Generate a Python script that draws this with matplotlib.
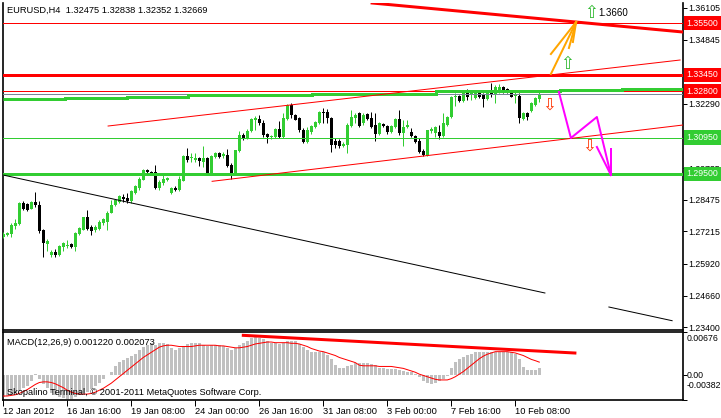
import matplotlib
matplotlib.use('Agg')
import matplotlib.pyplot as plt
from matplotlib.transforms import blended_transform_factory
from matplotlib.patches import Rectangle
import numpy as np

plt.rcParams['font.family'] = ['Liberation Sans', 'DejaVu Sans']

# ---------------- data ----------------
opens = [1.2698, 1.2706, 1.2710, 1.2742, 1.2750, 1.2834, 1.2830, 1.2810, 1.2838, 1.2826,
         1.2726, 1.2670, 1.2627, 1.2639, 1.2627, 1.2658, 1.2662, 1.2670, 1.2658, 1.2710,
         1.2726, 1.2778, 1.2738, 1.2726, 1.2730, 1.2754, 1.2758, 1.2794, 1.2826, 1.2838,
         1.2858, 1.2854, 1.2842, 1.2874, 1.2894, 1.2926, 1.2966, 1.2958, 1.2958, 1.2894,
         1.2914, 1.2926, 1.2874, 1.2894, 1.2886, 1.2922, 1.3021, 1.3013, 1.3005, 1.3013,
         1.2997, 1.3013, 1.2954, 1.3017, 1.3033, 1.3021, 1.3025, 1.2985, 1.2946, 1.3041,
         1.3105, 1.3093, 1.3121, 1.3165, 1.3169, 1.3153, 1.3109, 1.3097, 1.3097, 1.3129,
         1.3097, 1.3169, 1.3224, 1.3185, 1.3173, 1.3125, 1.3077, 1.3117, 1.3137, 1.3153,
         1.3197, 1.3197, 1.3173, 1.3081, 1.3081, 1.3061, 1.3065, 1.3141, 1.3173, 1.3193,
         1.3153, 1.3189, 1.3173, 1.3145, 1.3109, 1.3149, 1.3141, 1.3117, 1.3137, 1.3169,
         1.3113, 1.3137, 1.3117, 1.3101, 1.3081, 1.3041, 1.3021, 1.3121, 1.3113, 1.3117,
         1.3101, 1.3145, 1.3177, 1.3256, 1.3260, 1.3240, 1.3272, 1.3268, 1.3252, 1.3272,
         1.3264, 1.3248, 1.3272, 1.3264, 1.3276, 1.3296, 1.3288, 1.3276, 1.3260, 1.3260,
         1.3169, 1.3193, 1.3201, 1.3224, 1.32475]
highs = [1.2718, 1.2718, 1.2754, 1.2770, 1.2838, 1.2842, 1.2834, 1.2842, 1.2878, 1.2842,
         1.2730, 1.2690, 1.2647, 1.2650, 1.2666, 1.2678, 1.2686, 1.2674, 1.2718, 1.2738,
         1.2778, 1.2806, 1.2746, 1.2746, 1.2766, 1.2774, 1.2802, 1.2846, 1.2850, 1.2866,
         1.2870, 1.2874, 1.2886, 1.2906, 1.2938, 1.2969, 1.2969, 1.2962, 1.2985, 1.2926,
         1.2946, 1.2938, 1.2898, 1.2902, 1.2942, 1.3025, 1.3053, 1.3033, 1.3033, 1.3017,
         1.3061, 1.3017, 1.3025, 1.3037, 1.3037, 1.3037, 1.3049, 1.2993, 1.3045, 1.3121,
         1.3113, 1.3129, 1.3173, 1.3181, 1.3185, 1.3165, 1.3113, 1.3105, 1.3133, 1.3161,
         1.3193, 1.3228, 1.3232, 1.3189, 1.3177, 1.3133, 1.3137, 1.3145, 1.3161, 1.3201,
         1.3212, 1.3208, 1.3177, 1.3093, 1.3089, 1.3077, 1.3153, 1.3205, 1.3193, 1.3197,
         1.3193, 1.3193, 1.3197, 1.3193, 1.3157, 1.3153, 1.3145, 1.3145, 1.3173, 1.3205,
         1.3165, 1.3165, 1.3133, 1.3105, 1.3093, 1.3049, 1.3125, 1.3137, 1.3141, 1.3145,
         1.3193, 1.3181, 1.3260, 1.3272, 1.3264, 1.3276, 1.3288, 1.3280, 1.3276, 1.3276,
         1.3272, 1.3276, 1.3312, 1.3304, 1.3308, 1.3300, 1.3292, 1.3284, 1.3276, 1.3272,
         1.3197, 1.3197, 1.3236, 1.3256, 1.32838]
lows = [1.2694, 1.2702, 1.2698, 1.2730, 1.2746, 1.2806, 1.2802, 1.2810, 1.2818, 1.2714,
        1.2619, 1.2643, 1.2619, 1.2619, 1.2623, 1.2643, 1.2654, 1.2654, 1.2643, 1.2706,
        1.2726, 1.2726, 1.2706, 1.2718, 1.2726, 1.2746, 1.2726, 1.2794, 1.2822, 1.2834,
        1.2838, 1.2834, 1.2834, 1.2870, 1.2886, 1.2926, 1.2954, 1.2950, 1.2890, 1.2886,
        1.2906, 1.2922, 1.2870, 1.2882, 1.2882, 1.2922, 1.2997, 1.2997, 1.2997, 1.2981,
        1.2977, 1.2950, 1.2950, 1.3013, 1.3013, 1.3013, 1.2977, 1.2930, 1.2946, 1.3037,
        1.3085, 1.3089, 1.3117, 1.3125, 1.3145, 1.3097, 1.3073, 1.3089, 1.3093, 1.3093,
        1.3093, 1.3165, 1.3173, 1.3165, 1.3117, 1.3073, 1.3073, 1.3109, 1.3133, 1.3149,
        1.3153, 1.3153, 1.3037, 1.3053, 1.3053, 1.3057, 1.3033, 1.3137, 1.3153, 1.3137,
        1.3145, 1.3165, 1.3133, 1.3081, 1.3105, 1.3137, 1.3109, 1.3113, 1.3133, 1.3105,
        1.3061, 1.3133, 1.3097, 1.3073, 1.3033, 1.3021, 1.3021, 1.3113, 1.3097, 1.3089,
        1.3097, 1.3141, 1.3173, 1.3220, 1.3236, 1.3236, 1.3244, 1.3244, 1.3248, 1.3252,
        1.3216, 1.3244, 1.3256, 1.3232, 1.3272, 1.3272, 1.3272, 1.3256, 1.3232, 1.3153,
        1.3165, 1.3165, 1.3197, 1.3220, 1.32352]
closes = [1.2710, 1.2714, 1.2746, 1.2754, 1.2834, 1.2810, 1.2806, 1.2838, 1.2826, 1.2722,
          1.2674, 1.2682, 1.2639, 1.2627, 1.2662, 1.2674, 1.2666, 1.2658, 1.2714, 1.2734,
          1.2778, 1.2730, 1.2722, 1.2738, 1.2758, 1.2770, 1.2794, 1.2826, 1.2846, 1.2862,
          1.2850, 1.2842, 1.2882, 1.2902, 1.2930, 1.2966, 1.2958, 1.2954, 1.2894, 1.2918,
          1.2930, 1.2934, 1.2894, 1.2886, 1.2930, 1.3021, 1.3005, 1.3017, 1.3013, 1.3001,
          1.3013, 1.2954, 1.3021, 1.3033, 1.3017, 1.3029, 1.2981, 1.2954, 1.3045, 1.3105,
          1.3093, 1.3121, 1.3169, 1.3173, 1.3153, 1.3105, 1.3097, 1.3101, 1.3129, 1.3097,
          1.3173, 1.3224, 1.3185, 1.3165, 1.3125, 1.3077, 1.3125, 1.3141, 1.3157, 1.3197,
          1.3193, 1.3173, 1.3065, 1.3065, 1.3061, 1.3069, 1.3145, 1.3177, 1.3185, 1.3141,
          1.3185, 1.3169, 1.3137, 1.3109, 1.3153, 1.3141, 1.3117, 1.3141, 1.3169, 1.3113,
          1.3137, 1.3145, 1.3101, 1.3077, 1.3037, 1.3025, 1.3125, 1.3129, 1.3137, 1.3101,
          1.3153, 1.3177, 1.3256, 1.3260, 1.3240, 1.3272, 1.3256, 1.3272, 1.3272, 1.3256,
          1.3248, 1.3272, 1.3264, 1.3296, 1.3296, 1.3280, 1.3276, 1.3256, 1.3268, 1.3173,
          1.3193, 1.3177, 1.3232, 1.3252, 1.32669]

macd_main = [-0.0033, -0.0032, -0.0030, -0.0028, -0.0024, -0.0020, -0.0016, -0.0008, 0.0003, -0.0006,
             -0.0014, -0.0020, -0.0027, -0.0031, -0.0034, -0.0035, -0.0036, -0.0036, -0.0034, -0.0031,
             -0.0028, -0.0025, -0.0021, -0.0017, -0.0011, -0.0005, 0.0001, 0.0006, 0.0014, 0.0021,
             0.0024, 0.0027, 0.0030, 0.0034, 0.0040, 0.0045, 0.0047, 0.0050, 0.0047, 0.0050,
             0.0051, 0.0049, 0.0042, 0.0040, 0.0042, 0.0046, 0.0049, 0.0050, 0.0051, 0.0051,
             0.0047, 0.0046, 0.0047, 0.0047, 0.0047, 0.0046, 0.0043, 0.0040, 0.0042, 0.0047,
             0.0050, 0.0054, 0.0059, 0.0061, 0.0059, 0.0056, 0.0053, 0.0051, 0.0050, 0.0049,
             0.0051, 0.0054, 0.0054, 0.0053, 0.0049, 0.0044, 0.0040, 0.0037, 0.0036, 0.0037,
             0.0036, 0.0032, 0.0026, 0.0017, 0.0012, 0.0011, 0.0014, 0.0017, 0.0019, 0.0019,
             0.0019, 0.0019, 0.0018, 0.0016, 0.0012, 0.0011, 0.0010, 0.0010, 0.0010, 0.0008,
             0.0007, 0.0006, 0.0005, 0.0002, -0.0003, -0.0008, -0.0012, -0.0013, -0.0011, -0.0009,
             -0.0006, -0.0001, 0.0011, 0.0021, 0.0025, 0.0029, 0.0032, 0.0034, 0.0037, 0.0037,
             0.0037, 0.0037, 0.0037, 0.0037, 0.0037, 0.0037, 0.0037, 0.0036, 0.0033, 0.0026,
             0.0013, 0.0008, 0.0008, 0.0008, 0.00122]
macd_signal = [-0.0032, -0.0032, -0.0031, -0.0030, -0.0028, -0.0025, -0.0022, -0.0018, -0.0014, -0.0011,
               -0.0010, -0.0010, -0.0011, -0.0013, -0.0016, -0.0019, -0.0023, -0.0026, -0.0028, -0.0029,
               -0.0029, -0.0029, -0.0028, -0.0026, -0.0023, -0.0020, -0.0016, -0.0012, -0.0007, -0.0002,
               0.0003, 0.0008, 0.0013, 0.0018, 0.0023, 0.0028, 0.0032, 0.0036, 0.0040, 0.0044,
               0.0046, 0.0047, 0.0047, 0.0046, 0.0045, 0.0045, 0.0045, 0.0045, 0.0046, 0.0047,
               0.0047, 0.0047, 0.0047, 0.0047, 0.0046, 0.0046, 0.0045, 0.0044, 0.0043, 0.0043,
               0.0044, 0.0045, 0.0047, 0.0049, 0.0050, 0.0051, 0.0052, 0.0052, 0.0051, 0.0051,
               0.0051, 0.0051, 0.0050, 0.0050, 0.0049, 0.0047, 0.0045, 0.0042, 0.0040, 0.0038,
               0.0037, 0.0035, 0.0033, 0.0031, 0.0028, 0.0026, 0.0024, 0.0022, 0.0020, 0.0016,
               0.0015, 0.0015, 0.0015, 0.0015, 0.0014, 0.0014, 0.0014, 0.0014, 0.0013, 0.0012,
               0.0011, 0.0009, 0.0007, 0.0005, 0.0002, 0.0000, -0.0002, -0.0004, -0.0006, -0.0007,
               -0.0007, -0.0007, -0.0005, -0.0002, 0.0002, 0.0006, 0.0011, 0.0016, 0.0021, 0.0026,
               0.0030, 0.0033, 0.0035, 0.0037, 0.0037, 0.0037, 0.0037, 0.0036, 0.0035, 0.0033,
               0.0031, 0.0028, 0.0025, 0.0023, 0.002073]

date_ticks = [0, 16, 32, 48, 64, 80, 96, 112, 128]
date_labels = ['12 Jan 2012', '16 Jan 16:00', '19 Jan 08:00', '24 Jan 00:00', '26 Jan 16:00',
               '31 Jan 08:00', '3 Feb 00:00', '7 Feb 16:00', '10 Feb 08:00']

price_ticks = [1.36105, 1.34845, 1.32290, 1.29735, 1.28475, 1.27215, 1.25920, 1.24660, 1.23400]
macd_max, macd_min = 0.00676, -0.00382
macd_scale_labels = ['0.00676', '0.00', '-0.00382']

# horizontal levels
red_levels = [1.35500, 1.33450, 1.32800]
red_widths = [1, 3, 1]
green_levels = [1.30950, 1.29500]
green_widths = [1, 3]
last_price = 1.32669

# stepped green average line
step_edges = [-0.075, 15.4, 30.9, 46.2, 61.7, 77.2, 108.2, 139.2, 154.7, 169.925]
step_levels = [1.3250, 1.3252, 1.3257, 1.3263, 1.3264, 1.3268, 1.3280, 1.3284, 1.3288]

# trend lines: (bar index, price)
chan_up_x, chan_up_y = [26.2, 169.2], [1.31408, 1.34035]
chan_dn_x, chan_dn_y = [52.2, 169.925], [1.29207, 1.31448]
res_x, res_y = [92.2, 169.925], [1.36304, 1.35149]
blk1_x, blk1_y = [-0.075, 135.4], [1.29458, 1.24762]
blk2_x, blk2_y = [151.4, 167.2], [1.24204, 1.23659]
orange_apex = (143.2, 1.35547)
orange_tails_x = [136.9, 136.9, 141.4, 142.4]
orange_tails_y = [1.33478, 1.34274, 1.34513, 1.34751]
mag_x = [138.9, 141.9, 148.4, 151.9]
mag_y = [1.32762, 1.30931, 1.31767, 1.29458]
mag_head_x = [[148.4, 151.9], [151.9, 151.9]]
mag_head_y = [[1.30573, 1.29458], [1.30493, 1.29458]]
up_arrows_x, up_arrows_y = [146.9, 140.9], [1.35906, 1.33876]
dn_arrows_x, dn_arrows_y = [136.4, 146.4], [1.32244, 1.30612]
target_text = '1.3660'
macd_trend_x, macd_trend_y = [60.0, 142.9], [0.00624, 0.00349]

# ---------------- figure ----------------
W, H = 721, 418
fig = plt.figure(figsize=(W / 100, H / 100), dpi=100)
fig.patch.set_facecolor('white')


def px_rect(x0, y0, x1, y1):
    return [x0 / W, 1 - y1 / H, (x1 - x0) / W, (y1 - y0) / H]


ax = fig.add_axes(px_rect(3, 3, 683, 330))
axm = fig.add_axes(px_rect(3, 332, 683, 400))

GREEN = '#32CD32'
RED = '#FF0000'
PX = 0.72
FS = 6.7
FSR = 6.3

n = len(opens)
idx = np.arange(n)
o = np.array(opens); c = np.array(closes); h = np.array(highs); l = np.array(lows)
up = c >= o
cols = np.where(up, GREEN, '#000000')

ax.vlines(idx, l, h, colors=cols, lw=PX, zorder=3)
body_b = np.minimum(o, c)
body_h = np.maximum(np.abs(c - o), 0.0003)
ax.bar(idx, body_h, bottom=body_b, width=0.75, color=cols, lw=0, zorder=3)

# horizontal lines
for lv, w in zip(red_levels, red_widths):
    ax.axhline(lv, color=RED, lw=w * PX, zorder=5)
ax.axhline(last_price, color='#778899', lw=PX, zorder=4)
for lv, w in zip(green_levels, green_widths):
    ax.axhline(lv, color=GREEN, lw=w * PX, zorder=5)
ax.stairs(step_levels, step_edges, baseline=None, color=GREEN, lw=3 * PX, zorder=5)

# trend lines
ax.plot(chan_up_x, chan_up_y, color=RED, lw=PX, zorder=6)
ax.plot(chan_dn_x, chan_dn_y, color=RED, lw=PX, zorder=6)
ax.plot(res_x, res_y, color=RED, lw=3 * PX, zorder=6)
ax.plot(blk1_x, blk1_y, color='black', lw=PX, zorder=6)
ax.plot(blk2_x, blk2_y, color='black', lw=PX, zorder=6)
for tx, ty in zip(orange_tails_x, orange_tails_y):
    ax.plot([tx, orange_apex[0]], [ty, orange_apex[1]], color='#FFA500', lw=2 * PX, zorder=7)
ax.plot(mag_x, mag_y, color='#FF00FF', lw=2 * PX, zorder=7)
for hx, hy in zip(mag_head_x, mag_head_y):
    ax.plot(hx, hy, color='#FF00FF', lw=2 * PX, zorder=7)

for x, y in zip(up_arrows_x, up_arrows_y):
    ax.text(x, y, '\u21E7', color='#2EB82E', fontsize=12, ha='center', va='center',
            family='DejaVu Sans', zorder=8)
for x, y in zip(dn_arrows_x, dn_arrows_y):
    ax.text(x, y, '\u21E9', color='#FF3300', fontsize=12, ha='center', va='center',
            family='DejaVu Sans', zorder=8)
ax.text(up_arrows_x[0] + 1.9, up_arrows_y[0], target_text, fontsize=FS + 0.3, color='black',
        ha='left', va='center', zorder=8)

ax.text(0.006, 0.977, 'EURUSD,H4  %.5f %.5f %.5f %.5f' % (opens[-1], highs[-1], lows[-1], closes[-1]),
        transform=ax.transAxes, fontsize=FS, ha='left', va='center')

ax.set_xlim(-0.075, 169.925)
ax.set_ylim(1.23289, 1.36304)
ax.set_xticks([])
ax.yaxis.tick_right()
ax.set_yticks(price_ticks)
ax.set_yticklabels(['%.5f' % t for t in price_ticks], fontsize=FSR)
ax.tick_params(axis='y', length=3, width=PX, pad=1, colors='black')
ax.spines['top'].set_visible(False)
for s in ['left', 'right', 'bottom']:
    ax.spines[s].set_linewidth(1.2)

# level labels on the price scale
tr = blended_transform_factory(ax.transAxes, ax.transData)
XL = 1.0055
# current-price marker (mostly hidden behind the 1.32800 label)
ax.add_patch(Rectangle((1.0015, last_price - 0.0015), 0.06, 0.0030, transform=tr,
                       fc='black', ec='none', clip_on=False, zorder=9))
for lv in red_levels:
    ax.text(XL, lv, '%.5f' % lv, transform=tr, fontsize=FSR, color='white', ha='left',
            va='center', clip_on=False, zorder=10,
            bbox=dict(boxstyle='square,pad=0.3', fc=RED, ec='none'))
for lv in green_levels:
    ax.text(XL, lv, '%.5f' % lv, transform=tr, fontsize=FSR, color='white', ha='left',
            va='center', clip_on=False, zorder=10,
            bbox=dict(boxstyle='square,pad=0.3', fc=GREEN, ec='none'))

# ---------------- MACD ----------------
axm.bar(idx, macd_main, width=0.7, color='#C0C0C0', lw=0, zorder=2)
axm.plot(idx, macd_signal, color=RED, lw=PX, zorder=3)
axm.plot(macd_trend_x, macd_trend_y, color=RED, lw=3 * PX, zorder=4)
axm.set_xlim(-0.075, 169.925)
axm.set_ylim(macd_min, macd_max)
axm.yaxis.tick_right()
axm.set_yticks([macd_max, 0.0, macd_min])
axm.set_yticklabels([])
axm.tick_params(axis='y', length=3, width=PX, pad=1)
trm = blended_transform_factory(axm.transAxes, axm.transAxes)
for yy, txt in zip([0.90, 0.36, 0.21], macd_scale_labels):
    axm.text(1.0055, yy, txt, transform=trm, fontsize=FSR, ha='left', va='center', clip_on=False)
axm.set_xticks(date_ticks)
axm.set_xticklabels(date_labels, fontsize=FS, ha='left')
axm.tick_params(axis='x', length=4, width=PX, pad=1)
for s in ['left', 'right', 'bottom', 'top']:
    axm.spines[s].set_linewidth(1.2)
axm.text(0.006, 0.84, 'MACD(12,26,9) %.6f %.6f' % (macd_main[-1], macd_signal[-1]),
         transform=axm.transAxes, fontsize=FS, ha='left', va='center')
axm.text(0.006, 0.11, 'Skopalino Terminal, \u00A9 2001-2011 MetaQuotes Software Corp.',
         transform=axm.transAxes, fontsize=FS, ha='left', va='center', zorder=6)

fig.savefig('out.png', dpi=100, facecolor='white')
